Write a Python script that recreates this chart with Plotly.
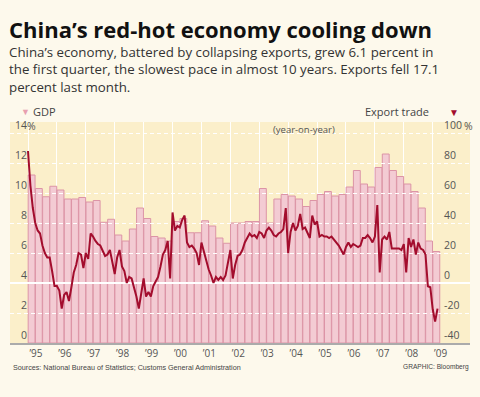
import numpy as np
import plotly.graph_objects as go

# ---------------- data ----------------
year_labels = ["’95", "’96", "’97", "’98", "’99", "’00", "’01", "’02",
               "’03", "’04", "’05", "’06", "’07", "’08", "’09"]

# quarterly GDP growth, % (1995 Q1 .. 2009 Q1)
gdp = [11.2, 10.3, 9.75, 10.45,
       10.2, 9.6, 9.6, 9.7,
       9.4, 9.5, 8.05, 8.25,
       7.2, 6.8, 7.6, 9.0,
       8.3, 7.1, 7.0, 6.8,
       8.1, 8.3, 7.35, 7.35,
       8.15, 7.8, 7.0, 6.65,
       8.0, 8.0, 8.1, 8.1,
       10.3, 8.0, 9.6, 9.9,
       9.8, 9.6, 9.1, 9.5,
       9.9, 10.1, 9.8, 9.9,
       10.4, 11.5, 10.6, 10.4,
       11.7, 12.6, 11.5, 11.1,
       10.6, 10.1, 9.0, 6.8,
       6.1]

# monthly export growth, % (Jan 1995 .. Mar 2009)
exports = [88, 65, 50, 40, 35, 33, 25, 20, 17, 17, 8, -2,          # 1995
           -2, -5, -17, -8, -6, -12, -3, 7, 12, 20, 19, 10,         # 1996
           20, 16, 33, 31, 28, 26, 25, 22, 18, 19, 22, 14,          # 1997
           6, 17, 22, 11, 8, 0, 4, 3, -3, -9, -17, -8,              # 1998
           3, -9, -6, -9, -2, 1, 4, 11, 19, 22, 28, 3,              # 1999
           47, 35, 38, 37, 42, 45, 27, 24, 25, 23, 20, 12,          # 2000
           27, 21, 15, 9, 5, 0, 4, 2, 4, 2, 5, 13,                  # 2001
           22, 3, 12, 18, 19, 22, 27, 30, 33, 31, 32, 30,           # 2002
           34, 33, 30, 35, 37, 35, 32, 31, 33, 34, 36, 50,          # 2003
           20, 34, 40, 35, 38, 46, 36, 37, 34, 30, 45, 39,          # 2004
           41, 31, 32, 31, 31, 30, 31, 29, 27, 25, 22, 19,          # 2005
           24, 27, 24, 26, 25, 24, 25, 30, 30, 32, 30, 27,          # 2006
           31, 52, 7, 29, 31, 29, 34, 23, 23, 23, 23, 22,           # 2007
           26, 7, 30, 24, 29, 19, 27, 23, 22, 19, -2.2, -2.8,       # 2008
           -17.5, -25.7, -17.1]                                     # 2009

left_ticks = [0, 2, 4, 6, 8, 10, 12, 14]
right_ticks = [-40, -20, 0, 20, 40, 60, 80, 100]

# ---------------- geometry helpers ----------------
W, H = 480, 397
ML, MR, MT, MB = 10, 10, 122, 54
PW, PH = W - ML - MR, H - MT - MB


def px(x):
    return (x - ML) / PW


def py(y):
    return (H - MB - y) / PH


BAR_PX = 7.227
first_bar_px = 28
x_lo = -0.5 - (first_bar_px - ML) / BAR_PX
x_hi = x_lo + PW / BAR_PX
y_hi = 14 + 11 / 15.0
y2_hi = 100 + 11 / 1.5

bar_x = np.arange(len(gdp))
month_x = np.arange(len(exports)) / 3.0 - 0.5
year_starts = [4 * i - 0.5 for i in range(len(year_labels))]
year_label_pos = [4 * i + 0.6 for i in range(len(year_labels))]

BG = "#fdf9ec"
PLOT_BG = "#fbefca"
BAR_FILL = "#f3cbd3"
BAR_LINE = "#dc94a6"
LINE_RED = "#a30d2d"
TXT = "#444444"
FONT = "Open Sans, Liberation Sans, sans-serif"
SMALL_FONT = "Liberation Sans, Arial, sans-serif"

fig = go.Figure()
fig.add_trace(go.Bar(
    x=bar_x, y=gdp, xaxis="x", yaxis="y",
    marker=dict(color=BAR_FILL, line=dict(color=BAR_LINE, width=1)),
    hoverinfo="skip", showlegend=False,
))
fig.add_trace(go.Scatter(
    x=month_x, y=exports, xaxis="x2", yaxis="y2", mode="lines",
    line=dict(color=LINE_RED, width=2), hoverinfo="skip", showlegend=False,
))

fig.update_layout(
    width=W, height=H, autosize=False,
    margin=dict(l=ML, r=MR, t=MT, b=MB, pad=0),
    paper_bgcolor=BG, plot_bgcolor="rgba(0,0,0,0)",
    bargap=0.05,
    font=dict(family=FONT, color=TXT, size=10),
    xaxis=dict(domain=[0, 1], range=[x_lo, x_hi], anchor="y",
               tickmode="array", tickvals=year_starts, showticklabels=False,
               showgrid=True, gridcolor="rgba(255,255,255,0.95)", gridwidth=1,
               zeroline=False, showline=False, ticks=""),
    yaxis=dict(domain=[0, 1], range=[0, y_hi], anchor="free",
               position=px(27), side="left",
               tickmode="array", tickvals=left_ticks,
               ticktext=[str(v) for v in left_ticks],
               ticklabelposition="outside top", ticks="",
               showgrid=False, zeroline=False, showline=False,
               tickfont=dict(size=10.5, color="#555555")),
    xaxis2=dict(domain=[0, 1], range=[x_lo, x_hi], anchor="y2",
                tickmode="array", tickvals=year_label_pos, ticktext=year_labels,
                showgrid=False, zeroline=False, ticks="",
                showline=True, linecolor="#ababab", linewidth=2,
                tickfont=dict(size=10, color="#555555")),
    yaxis2=dict(domain=[0, 1], range=[-40, y2_hi], anchor="free",
                position=px(443), side="right",
                tickmode="array", tickvals=right_ticks,
                ticktext=[str(v) for v in right_ticks],
                ticklabelposition="outside top", ticks="",
                showgrid=True, gridcolor="white", gridwidth=1, griddash="4px,3px",
                zeroline=True, zerolinecolor="white", zerolinewidth=1.5,
                showline=False,
                tickfont=dict(size=10.5, color="#555555")),
    shapes=[dict(type="rect", xref="paper", yref="paper", x0=0, x1=1, y0=0, y1=1,
                 fillcolor=PLOT_BG, line=dict(width=0), layer="below")],
)

ann = []


def add_text(text, x, y, xanchor="left", size=12, color=TXT, family=FONT, align="left"):
    ann.append(dict(text=text, x=px(x), y=py(y), xref="paper", yref="paper",
                    xanchor=xanchor, yanchor="middle", showarrow=False, align=align,
                    font=dict(size=size, color=color, family=family)))


add_text("<b>China’s red-hot economy cooling down</b>", 7, 29, size=22, color="#111111")
add_text("China’s economy, battered by collapsing exports, grew 6.1 percent in<br>"
         "the first quarter, the slowest pace in almost 10 years. Exports fell 17.1<br>"
         "percent last month.", 7, 69.5, size=13.3, color="#333333")
add_text("▼", 19, 112, size=9, color="#e8a0b0")
add_text("GDP", 31, 112, size=11, color="#444444")
add_text("Export trade", 431, 112, xanchor="right", size=11, color="#444444")
add_text("▼", 447, 112, size=10, color=LINE_RED)
add_text("(year-on-year)", 271, 129, size=9.5, color="#555555")
add_text("%", 25, 126, size=10.5, color="#555555")
add_text("%", 462, 126, size=10.5, color="#555555")
add_text("Sources: National Bureau of Statistics; Customs General Administration", 11, 367,
         size=7.2, color="#444444", family=SMALL_FONT)
add_text("GRAPHIC: Bloomberg", 471, 367, xanchor="right", size=6.6, color="#444444",
         family=SMALL_FONT)

fig.update_layout(annotations=ann)

fig.write_html(
    "out.html",
    config={"displayModeBar": False, "staticPlot": True},
    post_script="document.body.style.margin='0';document.body.style.padding='0';"
                "document.body.style.background='" + BG + "';",
)
